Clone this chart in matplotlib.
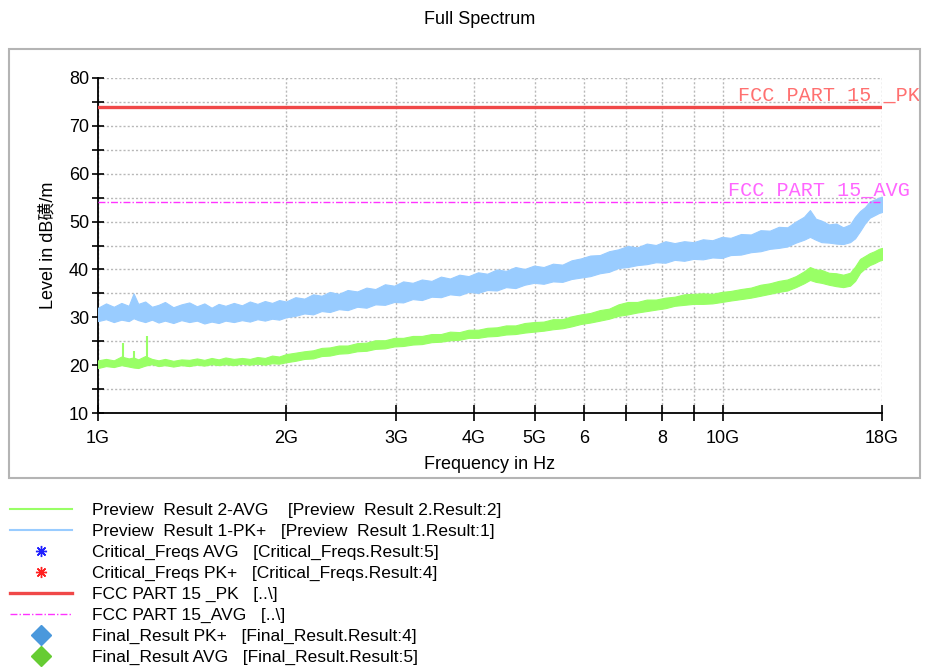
import matplotlib
matplotlib.use('Agg')
import matplotlib.pyplot as plt
from matplotlib.lines import Line2D
from matplotlib.patches import Rectangle
from matplotlib.ticker import MultipleLocator, NullLocator, FixedLocator, FixedFormatter

# ---------------- data ----------------
freq_ghz = [1.00, 1.03, 1.06, 1.09, 1.12, 1.14, 1.16, 1.19, 1.22, 1.25, 1.28,
            1.32, 1.36, 1.40, 1.44, 1.48, 1.52, 1.56, 1.60, 1.65, 1.70, 1.75,
            1.80, 1.85, 1.90, 1.95, 2.00, 2.07, 2.14, 2.21, 2.28, 2.35, 2.43,
            2.51, 2.60, 2.69, 2.78, 2.88, 2.98, 3.08, 3.19, 3.30, 3.42, 3.54,
            3.66, 3.79, 3.92, 4.06, 4.20, 4.35, 4.50, 4.66, 4.82, 4.99, 5.17,
            5.35, 5.54, 5.73, 5.93, 6.14, 6.36, 6.58, 6.81, 7.05, 7.30, 7.56,
            7.82, 8.10, 8.38, 8.68, 8.98, 9.30, 9.63, 9.97, 10.3, 10.7, 11.1,
            11.5, 11.9, 12.3, 12.7, 13.1, 13.5, 13.8, 14.1, 14.4, 14.8, 15.2,
            15.6, 16.0, 16.3, 16.6, 16.9, 17.2, 17.5, 17.8, 18.0]

pk_upper = [32.0, 32.9, 32.2, 33.0, 32.4, 35.0, 32.8, 33.3, 32.2, 32.6, 33.2,
            32.1, 32.7, 33.1, 32.3, 32.9, 32.0, 32.8, 32.4, 33.0, 32.5, 33.3,
            32.8, 33.4, 33.0, 33.6, 33.3, 34.2, 33.9, 34.8, 34.5, 35.3, 34.9,
            35.7, 35.4, 36.2, 35.9, 36.9, 36.6, 37.5, 37.2, 37.9, 37.6, 38.5,
            38.1, 38.9, 38.6, 39.4, 39.1, 40.0, 39.7, 40.5, 40.1, 40.8, 40.5,
            41.2, 41.0, 41.9, 42.3, 42.9, 43.0, 43.8, 44.2, 44.9, 44.6, 45.4,
            45.1, 45.9, 45.5, 45.9, 45.7, 46.3, 46.1, 46.8, 46.6, 47.4, 47.3,
            48.2, 48.1, 48.9, 48.8, 50.0, 51.0, 52.4, 50.6, 50.2, 49.4, 49.6,
            48.8, 49.4, 51.0, 52.2, 53.0, 54.2, 54.6, 55.0, 55.2]
pk_lower = [29.2, 29.6, 29.0, 29.5, 29.2, 29.8, 29.4, 29.0, 29.5, 28.9, 29.3,
            28.8, 29.4, 29.0, 29.3, 28.7, 29.1, 28.8, 29.3, 29.0, 29.4, 29.1,
            29.6, 29.3, 29.7, 29.5, 30.0, 30.3, 30.8, 30.6, 31.3, 31.1, 31.7,
            31.5, 32.2, 32.0, 32.7, 32.6, 33.2, 33.1, 33.8, 33.6, 34.3, 34.2,
            34.8, 34.6, 35.3, 35.1, 35.7, 35.6, 36.3, 36.1, 36.8, 37.2, 37.0,
            37.5, 37.4, 38.0, 38.3, 38.6, 39.2, 39.5, 40.3, 40.5, 40.9, 41.1,
            41.5, 41.4, 42.0, 41.8, 42.2, 42.1, 42.5, 42.4, 43.0, 43.1, 43.6,
            43.8, 44.3, 44.5, 44.8, 45.6, 46.2, 46.8, 46.2, 45.7, 45.6, 45.4,
            45.3, 45.7, 46.5, 48.0, 49.6, 50.8, 51.3, 51.8, 52.0]

avg_upper = [21.0, 21.3, 21.0, 21.8, 21.4, 21.6, 21.2, 21.9, 21.3, 21.0, 21.3,
             20.9, 21.2, 21.1, 21.4, 21.1, 21.5, 21.2, 21.6, 21.3, 21.5, 21.3,
             21.7, 21.5, 22.0, 21.8, 22.3, 22.6, 22.9, 23.1, 23.6, 23.7, 24.1,
             24.1, 24.6, 24.7, 25.2, 25.2, 25.7, 25.7, 26.1, 26.1, 26.5, 26.5,
             27.0, 26.9, 27.4, 27.4, 27.8, 27.9, 28.3, 28.3, 28.8, 29.0, 29.1,
             29.6, 29.6, 30.2, 30.6, 30.9, 31.5, 31.8, 32.7, 33.2, 33.2, 33.7,
             33.7, 34.1, 34.3, 34.8, 34.9, 35.0, 34.9, 35.3, 35.5, 35.9, 36.2,
             36.8, 37.1, 37.6, 37.9, 38.6, 39.6, 40.5, 40.0, 39.9, 39.3, 39.2,
             38.9, 39.3, 40.6, 42.2, 42.8, 43.4, 43.8, 44.3, 44.5]
avg_lower = [19.4, 19.8, 19.6, 20.0, 19.7, 19.5, 19.4, 19.9, 20.2, 19.8, 20.0,
             19.7, 20.0, 19.8, 20.1, 19.9, 20.2, 20.0, 20.2, 20.0, 20.3, 20.1,
             20.3, 20.1, 20.4, 20.3, 20.6, 20.9, 21.3, 21.4, 21.9, 22.0, 22.4,
             22.5, 22.9, 23.0, 23.4, 23.5, 23.9, 24.0, 24.3, 24.4, 24.8, 24.9,
             25.2, 25.3, 25.7, 25.7, 26.0, 26.1, 26.4, 26.5, 26.8, 27.0, 27.2,
             27.5, 27.7, 28.1, 28.6, 28.9, 29.3, 29.7, 30.3, 30.6, 31.0, 31.3,
             31.6, 31.9, 32.4, 32.6, 32.8, 32.8, 32.9, 33.2, 33.5, 33.8, 34.1,
             34.5, 34.9, 35.3, 35.6, 36.3, 37.1, 37.8, 37.4, 37.2, 36.8, 36.5,
             36.3, 36.6, 37.6, 39.3, 40.2, 40.9, 41.3, 41.8, 42.0]

spike_freq_ghz = [1.097, 1.14, 1.198]
spike_base = [20.3, 20.6, 20.8]
spike_top = [24.6, 23.0, 26.1]

limit_pk = 74.0
limit_avg = 54.0
limit_freq_ghz = [1.0, 18.0]

xtick_vals = [1, 2, 3, 4, 5, 6, 7, 8, 9, 10, 18]
xtick_labels = ['1G', '2G', '3G', '4G', '5G', '6', '', '8', '', '10G', '18G']

legend_labels = [
    'Preview  Result 2-AVG    [Preview  Result 2.Result:2]',
    'Preview  Result 1-PK+   [Preview  Result 1.Result:1]',
    'Critical_Freqs AVG   [Critical_Freqs.Result:5]',
    'Critical_Freqs PK+   [Critical_Freqs.Result:4]',
    'FCC PART 15 _PK   [..\\]',
    'FCC PART 15_AVG   [..\\]',
    'Final_Result PK+   [Final_Result.Result:4]',
    'Final_Result AVG   [Final_Result.Result:5]',
]

# ---------------- style ----------------
SANS = ['Liberation Sans', 'DejaVu Sans', 'Noto Sans CJK SC']
plt.rcParams['font.family'] = SANS
C_PK = '#99ccff'
C_AVG = '#99ff66'
C_LPK = '#f04848'
C_LAVG = '#ff33ff'

fig = plt.figure(figsize=(9.29, 6.69), dpi=100)

# outer frame
fig.patches.append(Rectangle((9 / 929, 1 - 478 / 669), 911 / 929, 429 / 669,
                             transform=fig.transFigure, fill=False,
                             edgecolor='#b4b4b4', linewidth=1.5))

ax = fig.add_axes([98 / 929, 1 - 413 / 669, 784 / 929, 335 / 669])
ax.set_xscale('log')
ax.set_xlim(1, 18)
ax.set_ylim(10, 80)

# data
ax.fill_between(freq_ghz, avg_lower, avg_upper, color=C_AVG, linewidth=0.8,
                edgecolor=C_AVG, zorder=3)
ax.vlines(spike_freq_ghz, spike_base, spike_top, color=C_AVG, linewidth=1.5,
          zorder=3)
ax.fill_between(freq_ghz, pk_lower, pk_upper, color=C_PK, linewidth=0.8,
                edgecolor=C_PK, zorder=3)
ax.plot(limit_freq_ghz, [limit_pk, limit_pk], color=C_LPK, linewidth=2.4,
        zorder=4)
ax.plot(limit_freq_ghz, [limit_avg, limit_avg], color=C_LAVG, linewidth=1.0,
        linestyle=(0, (5, 1.5, 1, 1.5)), zorder=4)

ax.text(10.59, limit_pk + 0.5, 'FCC PART 15 _PK', family='Liberation Mono',
        fontsize=14.5, color='#ff7070', va='bottom', ha='left', clip_on=False)
ax.text(10.2, limit_avg + 0.5, 'FCC PART 15_AVG', family='Liberation Mono',
        fontsize=14.5, color='#ff66ff', va='bottom', ha='left', clip_on=False)

# axes styling
for s in ['top', 'right']:
    ax.spines[s].set_visible(False)
for s in ['left', 'bottom']:
    ax.spines[s].set_linewidth(1.3)
ax.xaxis.set_major_locator(FixedLocator(xtick_vals))
ax.xaxis.set_major_formatter(FixedFormatter(xtick_labels))
ax.xaxis.set_minor_locator(NullLocator())
ax.yaxis.set_major_locator(MultipleLocator(10))
ax.yaxis.set_minor_locator(MultipleLocator(5))
ax.tick_params(axis='both', which='both', direction='inout', width=1.2,
               labelsize=13)
ax.tick_params(axis='y', which='both', length=9, pad=2)
ax.tick_params(axis='x', which='both', length=11, pad=7)

grid_kw = dict(color='#b8b8b8', linewidth=1.0, linestyle=(0, (1.5, 1.5)))
ax.grid(True, axis='y', which='both', **grid_kw)
ax.grid(True, axis='x', which='major', **grid_kw)
ax.set_axisbelow(True)

ax.set_xlabel('Frequency in Hz', fontsize=13, labelpad=6)
ax.set_ylabel('Level in dB磺/m', fontsize=13, labelpad=8)

fig.text(480 / 929, 1 - 20 / 669, 'Full Spectrum', ha='center', va='center',
         fontsize=13)

# legend
handles = [
    Line2D([], [], color=C_AVG, linewidth=1.5),
    Line2D([], [], color=C_PK, linewidth=1.5),
    Line2D([], [], color='#2020ff', linestyle='none', marker=(8, 2, 0),
           markersize=8, markeredgewidth=1.0),
    Line2D([], [], color='#ff2020', linestyle='none', marker=(8, 2, 0),
           markersize=8, markeredgewidth=1.0),
    Line2D([], [], color=C_LPK, linewidth=2.4),
    Line2D([], [], color=C_LAVG, linewidth=1.0, linestyle=(0, (5, 1.5, 1, 1.5))),
    Line2D([], [], color='#4a98dc', linestyle='none', marker='D',
           markersize=10),
    Line2D([], [], color='#66cc33', linestyle='none', marker='D',
           markersize=10),
]
fig.legend(handles, legend_labels, loc='upper left',
           bbox_to_anchor=(10 / 929, 1 - 503 / 669), frameon=False,
           fontsize=12.5, handlelength=3.55, handletextpad=1.2,
           labelspacing=0.33, borderpad=0, borderaxespad=0)

fig.savefig('out.png', dpi=100)
